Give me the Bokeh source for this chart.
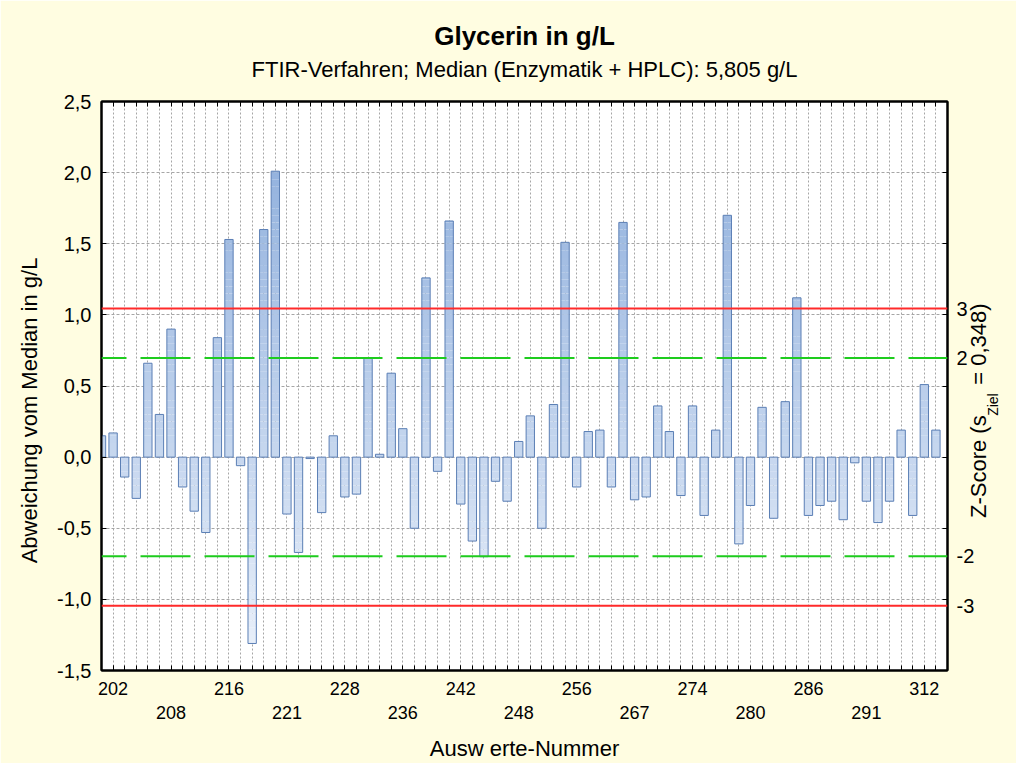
import math
from bokeh.plotting import figure
from bokeh.models import LinearAxis, FixedTicker, Range1d, Span, Grid, Title
from bokeh.embed import file_html
from bokeh.resources import INLINE

# ---------------- data ----------------
TITLE = "Glycerin in g/L"
SUBTITLE = "FTIR-Verfahren; Median (Enzymatik + HPLC): 5,805 g/L"
Y_LABEL = "Abweichung vom Median in g/L" + "\u00a0" * 8
X_LABEL = "Ausw erte-Nummer"
Z_LABEL = "Z-Score (s" + "\u00a0" * 5 + "= 0,348)"
Z_LABEL_SUB = "Ziel"
S_ZIEL = 0.348

# deviation from the median (g/L), one value per participant, left to right
deviation = [
    0.15, 0.17, -0.14, -0.29, 0.66, 0.30, 0.90, -0.21, -0.38, -0.53,
    0.84, 1.53, -0.06, -1.31, 1.60, 2.01, -0.40, -0.67, -0.01, -0.39,
    0.15, -0.28, -0.26, 0.70, 0.02, 0.59, 0.20, -0.50, 1.26, -0.10,
    1.66, -0.33, -0.59, -0.70, -0.17, -0.31, 0.11, 0.29, -0.50, 0.37,
    1.51, -0.21, 0.18, 0.19, -0.21, 1.65, -0.30, -0.28, 0.36, 0.18,
    -0.27, 0.36, -0.41, 0.19, 1.70, -0.61, -0.34, 0.35, -0.43, 0.39,
    1.12, -0.41, -0.34, -0.31, -0.44, -0.04, -0.31, -0.46, -0.31, 0.19,
    -0.41, 0.51, 0.19,
]
# positions (bar index) of the labelled participants and their numbers
label_positions = [1, 6, 11, 16, 21, 26, 31, 36, 41, 46, 51, 56, 61, 66, 71]
label_texts = ["202", "208", "216", "221", "228", "236", "242", "248",
               "256", "267", "274", "280", "286", "291", "312"]

y_ticks = [-1.5, -1.0, -0.5, 0.0, 0.5, 1.0, 1.5, 2.0, 2.5]
y_tick_labels = ["-1,5", "-1,0", "-0,5", "0,0", "0,5", "1,0", "1,5", "2,0", "2,5"]
z_scores = [-3, -2, 2, 3]
z_tick_labels = ["-3", "-2", "2", "3"]

# ---------------- styling ----------------
FONT = "Liberation Sans"
BG = "#FFFDE1"
GRID = "#A6A6A6"
BAR_EDGE = "#5B7FB5"
TOP_RGB = (136, 170, 218)
BOT_RGB = (236, 242, 251)
BAR_W = 0.72
Z_MAIN_AT = -0.428    # y (data units) where the right-hand title starts
Z_SUB_AT = 0.290      # y (data units) where its subscript starts

N = len(deviation)
idx = list(range(N))
Y0, Y1 = y_ticks[0], y_ticks[-1]

p = figure(width=1016, height=763, output_backend="svg", toolbar_location=None,
           x_range=Range1d(0, N), y_range=Range1d(Y0, Y1),
           x_axis_location=None, y_axis_location=None, title=None,
           min_border_left=101, min_border_right=69, min_border_top=101, min_border_bottom=91)
p.border_fill_color = BG
p.background_fill_color = "white"
p.outline_line_color = "black"
p.outline_line_width = 2
p.grid.visible = False

# grids
p.add_layout(Grid(dimension=0, ticker=FixedTicker(ticks=idx), grid_line_color=GRID,
                  grid_line_dash="2 2", grid_line_width=1), "center")
p.add_layout(Grid(dimension=1, ticker=FixedTicker(ticks=y_ticks), grid_line_color=GRID,
                  grid_line_dash="3 2", grid_line_width=1), "center")

# bars with a vertical gradient (colour depends on height in the plot)
def grad(y):
    t = (Y1 - y) / (Y1 - Y0)
    c = [round(a + (b - a) * t) for a, b in zip(TOP_RGB, BOT_RGB)]
    return "#%02x%02x%02x" % tuple(c)

STEP = 0.05
sl, sr, sb, st, sc = [], [], [], [], []
for i, v in enumerate(deviation):
    lo, hi = min(0.0, v), max(0.0, v)
    y = lo
    while y < hi - 1e-9:
        y2 = min(hi, (math.floor(y / STEP + 1e-6) + 1) * STEP)
        sl.append(i - BAR_W / 2); sr.append(i + BAR_W / 2)
        sb.append(y); st.append(y2); sc.append(grad((y + y2) / 2))
        y = y2
p.quad(left=sl, right=sr, bottom=sb, top=st, fill_color=sc, line_color=None)
p.quad(left=[i - BAR_W / 2 for i in idx], right=[i + BAR_W / 2 for i in idx],
       bottom=[min(0, v) for v in deviation], top=[max(0, v) for v in deviation],
       fill_color=None, line_color=BAR_EDGE, line_width=1)

# limit lines
for z in (2, -2):
    p.add_layout(Span(location=z * S_ZIEL, dimension="width", line_color="#1ECC1E",
                      line_width=2, line_dash="50 14", line_dash_offset=25))
for z in (3, -3):
    p.add_layout(Span(location=z * S_ZIEL, dimension="width", line_color="#FF2A2A",
                      line_width=2))

# axes
def style(ax, size="20px"):
    ax.axis_line_color = "black"
    ax.axis_line_width = 2
    ax.major_label_text_font = FONT
    ax.major_label_text_font_size = size
    ax.major_label_text_color = "black"
    ax.axis_label_text_font = FONT
    ax.axis_label_text_font_style = "normal"
    ax.axis_label_text_font_size = "22px"
    ax.axis_label_text_color = "black"
    ax.major_tick_line_color = "black"
    ax.minor_tick_line_color = "black"
    ax.major_tick_out = 0
    ax.minor_tick_out = 0
    ax.minor_tick_in = 0
    ax.major_tick_in = 5
    return ax

def text_axis(text, at, size, standoff):
    # an axis whose single (unmarked) tick carries a rotated text
    ax = style(LinearAxis(ticker=FixedTicker(ticks=[at]),
                          major_label_overrides={at: text}), size)
    ax.axis_line_color = None
    ax.major_tick_in = 0
    ax.major_label_orientation = math.pi / 2
    ax.major_label_standoff = standoff
    return ax

left = style(LinearAxis(ticker=FixedTicker(ticks=y_ticks),
                        major_label_overrides=dict(zip(y_ticks, y_tick_labels))))
left.major_label_standoff = 10
left.axis_label = Y_LABEL
left.axis_label_standoff = 12
p.add_layout(left, "left")

z_pos = [round(z * S_ZIEL, 6) for z in z_scores]
right = style(LinearAxis(ticker=FixedTicker(ticks=z_pos, minor_ticks=y_ticks),
                         major_label_overrides=dict(zip(z_pos, z_tick_labels))))
right.major_tick_in = 0
right.minor_tick_in = 5
right.major_label_standoff = 9
p.add_layout(right, "right")
p.add_layout(text_axis(Z_LABEL, Z_MAIN_AT, "22px", 1), "right")
p.add_layout(text_axis(Z_LABEL_SUB, Z_SUB_AT, "14px", -13), "right")

# top axis: only the small inward ticks; its label is the subtitle
top = style(LinearAxis(ticker=FixedTicker(ticks=[], minor_ticks=idx)))
top.minor_tick_in = 5
top.major_label_standoff = 0
top.axis_label = SUBTITLE
top.axis_label_standoff = 20
p.add_layout(top, "above")

row1_pos = label_positions[0::2]
row1_txt = label_texts[0::2]
row2_pos = label_positions[1::2]
row2_txt = label_texts[1::2]

b1 = style(LinearAxis(ticker=FixedTicker(ticks=row1_pos, minor_ticks=idx),
                      major_label_overrides=dict(zip(row1_pos, row1_txt))), "18px")
b1.minor_tick_in = 5
b1.major_label_standoff = 11
p.add_layout(b1, "below")

b2 = style(LinearAxis(ticker=FixedTicker(ticks=row2_pos),
                      major_label_overrides=dict(zip(row2_pos, row2_txt))), "18px")
b2.axis_line_color = None
b2.major_tick_in = 0
b2.major_label_standoff = 8
b2.axis_label = X_LABEL
b2.axis_label_standoff = 14
p.add_layout(b2, "below")

# title
p.add_layout(Title(text=TITLE, align="center", text_font=FONT, text_font_size="26px",
                   text_font_style="bold", text_color="black", standoff=6), "above")

open("out.html", "w").write(file_html(p, INLINE))
